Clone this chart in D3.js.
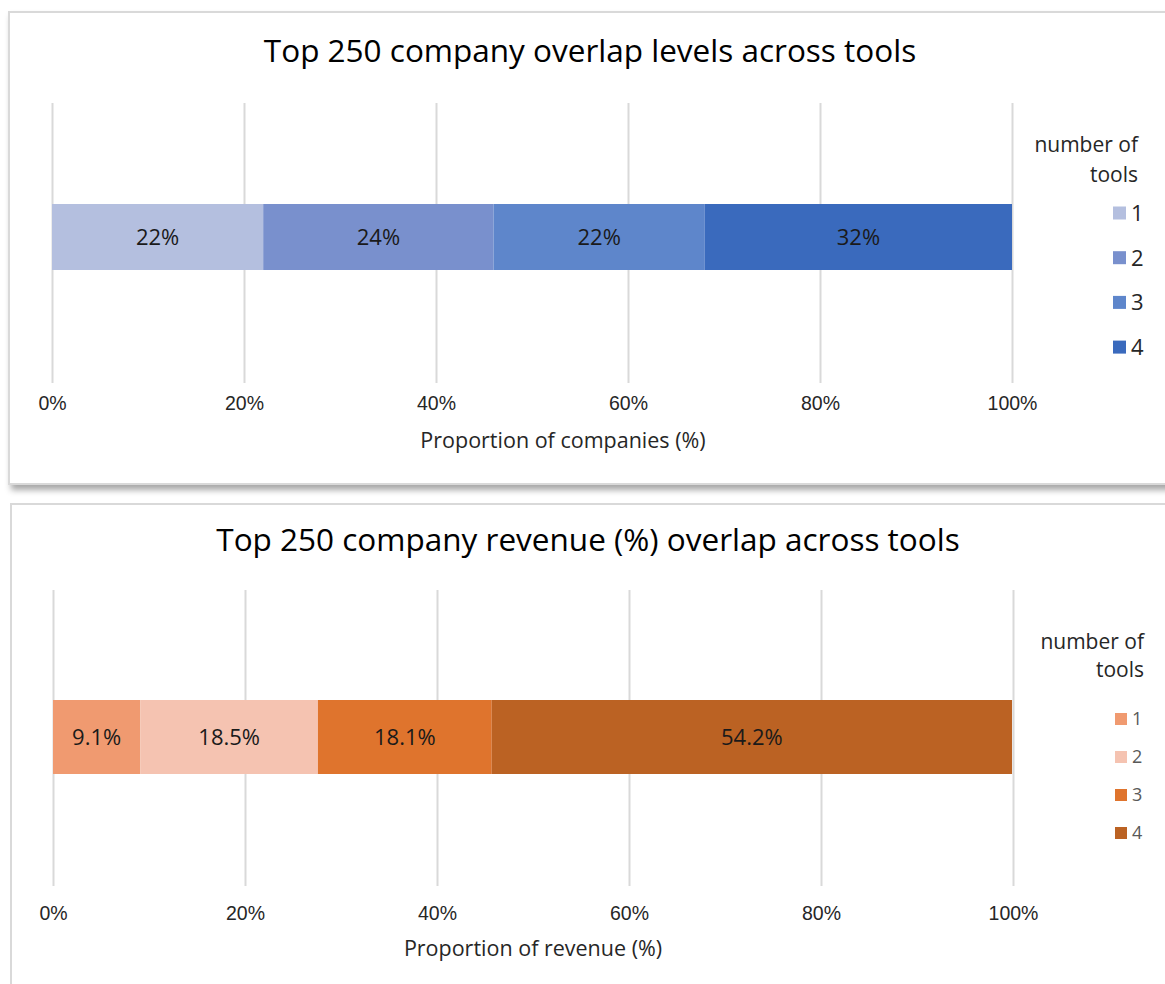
<!DOCTYPE html>
<html>
  <head>
    <script src="https://d3js.org/d3.v7.min.js"></script>
    <style>
    body { margin: 0; background: #fff; }
    svg { font-family: "Open Sans", "Liberation Sans", sans-serif; }
    .grid line { stroke: #d9d9d9; stroke-width: 2; }
    .grid path { display: none; }
    .axis path, .axis line { display: none; }
    .axis text { font-size: 19.5px; fill: #262626; }
    </style>
  </head>
  <body>
    <script>

    // data
    var toolCounts = ["1", "2", "3", "4"];
    var companyShare = [22, 24, 22, 32];
    var revenueShare = [9.1, 18.5, 18.1, 54.2];
    var tickValues = [0, 20, 40, 60, 80, 100];
    var blueColors = ["#b4bfdf", "#7990cd", "#5e86cb", "#3a6abd"];
    var orangeColors = ["#f09a70", "#f5c3b1", "#df742d", "#bb6223"];

    var w = 1165;
    var h = 984;

    var svg = d3.select("body")
      .append("svg")
      .attr("width", w)
      .attr("height", h);

    // drop shadow for the top panel
    var defs = svg.append("defs");
    var f = defs.append("filter").attr("id", "shadow")
      .attr("x", "-5%").attr("y", "-5%").attr("width", "110%").attr("height", "115%");
    f.append("feDropShadow").attr("dx", 3).attr("dy", 5)
      .attr("stdDeviation", 3).attr("flood-color", "#000").attr("flood-opacity", 0.35);

    function drawPanel(opt) {
      var g = svg.append("g");

      // panel frame
      g.append("rect")
        .attr("x", opt.box[0]).attr("y", opt.box[1])
        .attr("width", opt.box[2]).attr("height", opt.box[3])
        .attr("fill", "#fff")
        .attr("stroke", "#d9d9d9")
        .attr("stroke-width", 2)
        .attr("filter", opt.shadow ? "url(#shadow)" : null);

      var x = d3.scaleLinear().domain([0, 100]).range([opt.x0, opt.x0 + 960]);

      // gridlines
      g.append("g")
        .attr("class", "grid")
        .attr("transform", "translate(0," + opt.gridBottom + ")")
        .call(d3.axisBottom(x).tickValues(tickValues)
          .tickSize(-(opt.gridBottom - opt.gridTop)).tickFormat(""));

      // title
      g.append("text")
        .attr("x", opt.titleX).attr("y", opt.titleY)
        .attr("text-anchor", "middle")
        .attr("font-size", 31.5)
        .attr("fill", "#000")
        .text(opt.title);

      // stacked segments
      var cum = 0;
      var segs = opt.values.map(function(v, i) {
        var s = { start: cum, value: v, color: opt.colors[i] };
        cum += v;
        return s;
      });

      var bar = g.append("g");
      bar.selectAll("rect")
        .data(segs)
        .enter()
        .append("rect")
        .attr("x", function(d) { return x(d.start); })
        .attr("y", opt.barY)
        .attr("width", function(d) { return x(d.start + d.value) - x(d.start); })
        .attr("height", opt.barH)
        .attr("fill", function(d) { return d.color; });

      bar.selectAll("text")
        .data(segs)
        .enter()
        .append("text")
        .attr("x", function(d) { return x(d.start + d.value / 2); })
        .attr("y", opt.barY + opt.barH / 2)
        .attr("dy", "0.36em")
        .attr("text-anchor", "middle")
        .attr("font-size", 22)
        .attr("fill", "#1a1a1a")
        .text(function(d) { return d.value + "%"; });

      // x axis labels
      g.append("g")
        .attr("class", "axis")
        .attr("transform", "translate(0," + opt.tickY + ")")
        .call(d3.axisBottom(x).tickValues(tickValues).tickSize(0)
          .tickFormat(function(d) { return d + "%"; }));

      // axis title
      g.append("text")
        .attr("x", opt.axisTitleX).attr("y", opt.axisTitleY)
        .attr("text-anchor", "middle")
        .attr("font-size", 21.5)
        .attr("fill", "#262626")
        .text(opt.axisTitle);

      // legend
      var lg = g.append("g");
      lg.append("text")
        .attr("x", opt.legRight).attr("y", opt.legTitleY)
        .attr("text-anchor", "end")
        .attr("font-size", 21)
        .attr("fill", "#262626")
        .selectAll("tspan")
        .data(["number of", "tools"])
        .enter()
        .append("tspan")
        .attr("x", opt.legRight)
        .attr("dy", function(d, i) { return i ? opt.legTitleGap : 0; })
        .text(function(d) { return d; });

      var items = lg.selectAll(".item")
        .data(toolCounts)
        .enter()
        .append("g")
        .attr("class", "item")
        .attr("transform", function(d, i) {
          return "translate(" + opt.legX + "," + (opt.legY0 + i * opt.legStep) + ")";
        });
      items.append("rect")
        .attr("x", 0).attr("y", -opt.sq / 2)
        .attr("width", opt.sq).attr("height", opt.sq)
        .attr("fill", function(d, i) { return opt.colors[i]; });
      items.append("text")
        .attr("x", opt.sq + 5).attr("dy", "0.36em")
        .attr("font-size", opt.legFont)
        .attr("fill", opt.legTextColor)
        .text(function(d) { return d; });
    }

    drawPanel({
      box: [9, 12, 1170, 472], shadow: true,
      x0: 52, gridTop: 103, gridBottom: 383,
      title: "Top 250 company overlap levels across tools", titleX: 590, titleY: 62,
      values: companyShare, colors: blueColors,
      barY: 204, barH: 66,
      tickY: 393, axisTitle: "Proportion of companies (%)", axisTitleX: 563, axisTitleY: 448,
      legRight: 1138, legTitleY: 152, legTitleGap: 30,
      legX: 1113, legY0: 213, legStep: 44.7, sq: 13, legFont: 22, legTextColor: "#262626"
    });

    drawPanel({
      box: [11, 504, 1170, 500], shadow: false,
      x0: 53, gridTop: 590, gridBottom: 886,
      title: "Top 250 company revenue (%) overlap across tools", titleX: 588, titleY: 551,
      values: revenueShare, colors: orangeColors,
      barY: 700, barH: 74,
      tickY: 903, axisTitle: "Proportion of revenue (%)", axisTitleX: 533, axisTitleY: 956,
      legRight: 1144, legTitleY: 649, legTitleGap: 28,
      legX: 1115, legY0: 719, legStep: 38, sq: 12, legFont: 18, legTextColor: "#595959"
    });

    </script>
  </body>
</html>
